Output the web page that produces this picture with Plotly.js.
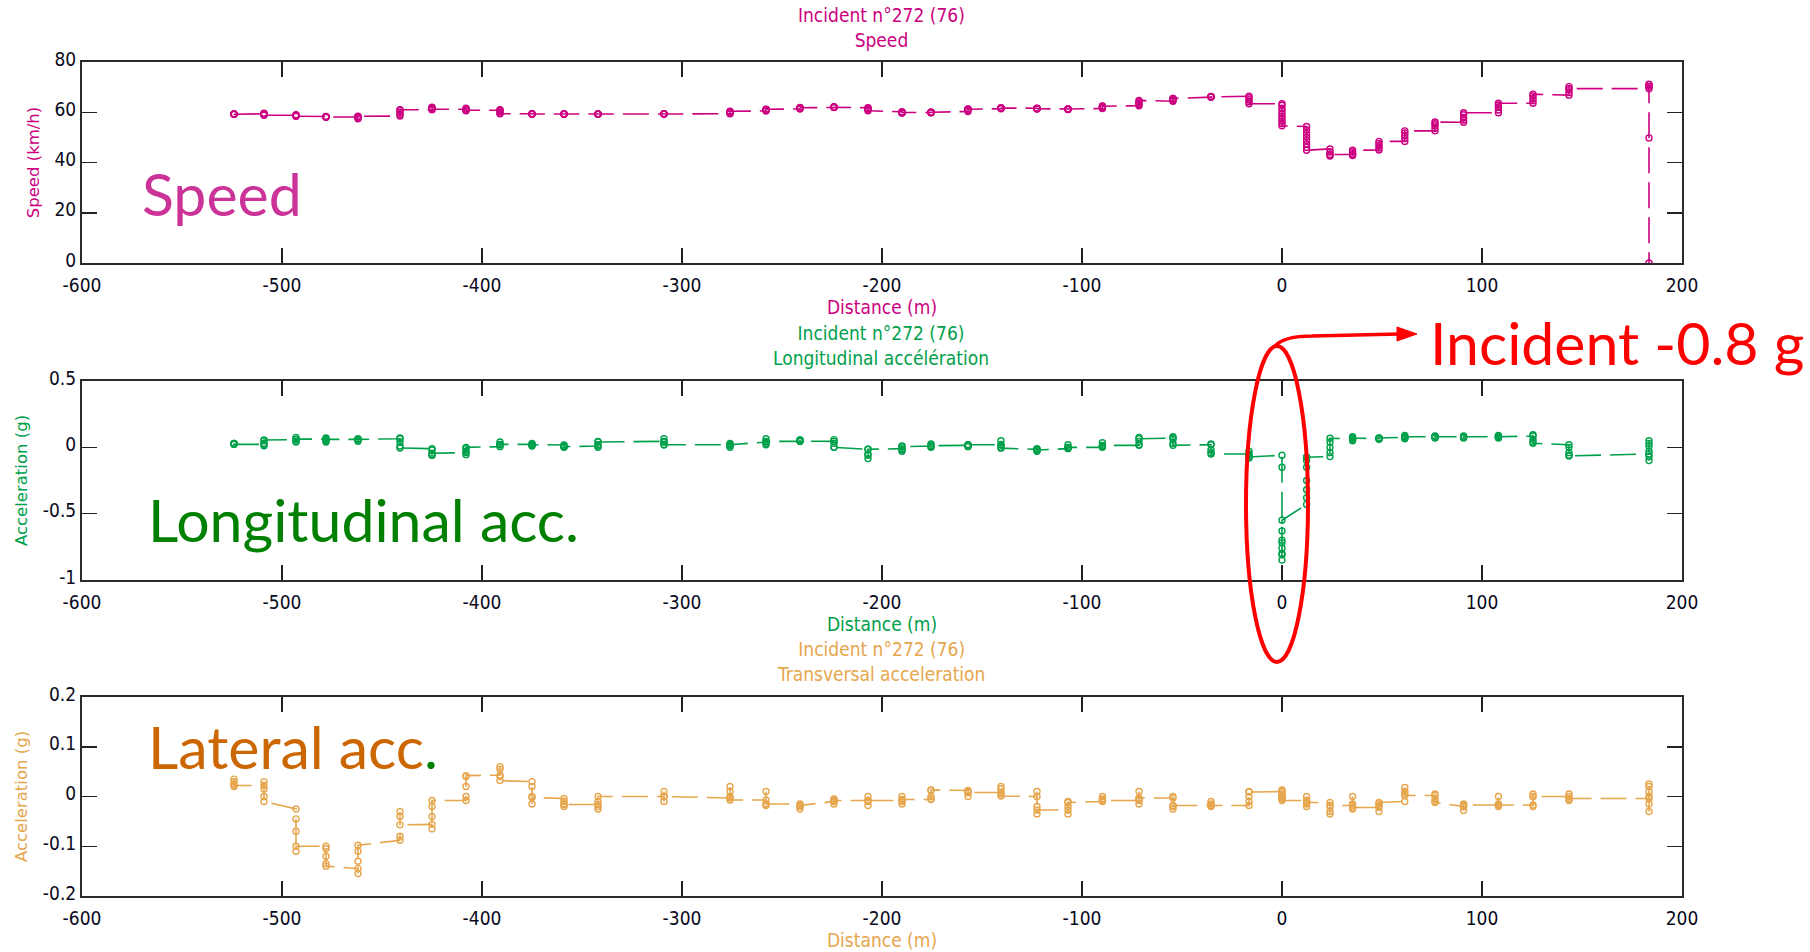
<!DOCTYPE html>
<html>
<head>
<meta charset="utf-8">
<script src="https://cdn.plot.ly/plotly-3.0.1.min.js"></script>
<style>html,body{margin:0;padding:0;background:#fff;}#chart{width:1810px;height:952px;}</style>
</head>
<body>
<div id="chart"></div>
<script>
// ---------- DATA ----------
// distance of each GPS update (m); the sensors sample several times between updates
const distances = [-524,-509,-493,-478,-462,-441,-425,-408,-391,-375,-359,-342,-309,-276,-258,-241,-224,-207,-190,-175.5,-157,-140.5,-122.5,-107,-89.8,-71.5,-54.5,-35.5,-16.5,0,12.3,24,35.3,48.5,61.4,76.5,90.8,108.2,125.5,143.5,183.5];

const speed = [
 [59.3,59.3,59.3,59.2,59.2],[59.4,59.6,59.2,59.0,58.8],[58.8,59.0,58.6,58.5,58.4],[58.3,58.2,58.0,58.1,58.1],
 [58.1,57.4,57.8,58.2,58.4],[58.5,59.2,60.0,60.8,61.0],[61.0,61.8,62.0,61.4,61.2],[61.2,61.6,61.0,60.6,60.8],
 [60.8,61.0,60.2,59.6,59.4],[59.4,59.3,59.2,59.3,59.3],[59.3,59.3,59.2,59.3,59.3],[59.3,59.3,59.3,59.2,59.3],
 [59.3,59.3,59.4,59.3,59.3],[59.4,59.6,59.9,60.2,60.4],[60.5,60.8,61.1,61.0,61.2],[61.3,61.6,61.9,61.7,61.8],
 [61.9,62.2,62.0,62.1,62.0],[61.8,61.6,61.2,60.9,60.6],[60.2,59.8,59.7,59.8,59.9],[59.9,59.8,60.0,59.9,60.0],
 [60.3,60.8,61.2,61.3,61.2],[61.4,61.7,61.8,61.6,61.7],[61.6,61.5,61.3,61.5,61.4],[61.3,61.2,61.1,61.2,61.3],
 [61.5,61.8,62.1,62.5,62.4],[62.6,63.1,63.6,64.2,64.7],[64.4,64.8,65.2,65.5,65.5],[66.0,66.2,66.3,66.2,66.1],
 [66.4,65.8,65.0,64.2,63.4],
 [63.4,62.8,61.6,60.5,59.5,58.4,57.5,56.5,55.5,54.6],
 [54.3,53.0,51.6,50.2,48.8,47.4,46.0,44.9],
 [45.4,44.2,43.0,42.6,43.2],[43.2,42.8,43.3,44.2,44.9],[45.0,45.8,46.7,47.6,48.4],[48.4,49.6,50.8,51.8,52.6],
 [52.6,53.6,54.6,55.4,56.1],[56.0,56.9,57.9,59.0,59.8],[59.8,60.9,62.0,62.9,63.6],[63.6,64.6,65.6,66.5,67.2],
 [66.8,67.8,69.0,70.2,69.4],
 [69.4,70.2,71.2,71.0,70.2,49.8,0]
];

const longAcc = [
 [0.03,0.03,0.028,0.025,0.022],[0.022,0.012,0.03,0.05,0.055],[0.058,0.075,0.045,0.04,0.062],[0.062,0.07,0.04,0.05,0.06],
 [0.06,0.065,0.045,0.055,0.06],[0.065,0.07,0.04,0.01,-0.005],[-0.01,-0.02,-0.06,-0.06,-0.045],[-0.04,-0.055,-0.03,-0.01,0.0],
 [0.005,0.02,0.04,0.02,0.022],[0.022,0.03,0.01,0.015,0.02],[0.018,0.0,0.005,0.01,0.005],[0.01,0.045,0.02,0.0,0.04],
 [0.045,0.065,0.04,0.02,0.02],[0.02,0.03,0.01,0.0,0.02],[0.04,0.065,0.03,0.02,0.045],[0.045,0.058,0.05,0.048,0.046],
 [0.045,0.058,0.03,0.0,0.0],[-0.015,-0.05,-0.085,-0.06,-0.015],[-0.01,0.01,-0.03,-0.02,0.004],[0.01,0.025,0.0,0.005,0.012],
 [0.015,0.02,0.005,0.01,0.02],[0.02,0.05,0.02,0.0,-0.006],[-0.015,-0.01,-0.03,-0.025,-0.02],[-0.01,0.02,0.0,-0.005,0.0],
 [0.0,0.035,0.01,0.005,0.015],[0.015,0.02,0.045,0.075,0.065],[0.07,0.08,0.06,0.03,0.015],[0.02,0.025,-0.02,-0.04,-0.05],
 [-0.05,-0.03,-0.06,-0.08,-0.072],
 [-0.06,-0.15,-0.63,-0.7,-0.76,-0.81,-0.85,-0.8,-0.72,-0.55],
 [-0.43,-0.38,-0.32,-0.25,-0.15,-0.1,-0.075,-0.075],
 [-0.07,-0.04,0.0,0.04,0.068],[0.065,0.08,0.06,0.05,0.07],[0.065,0.07,0.06,0.065,0.07],[0.075,0.09,0.065,0.07,0.08],
 [0.08,0.085,0.07,0.075,0.08],[0.08,0.085,0.07,0.075,0.08],[0.08,0.09,0.07,0.075,0.08],[0.085,0.095,0.06,0.04,0.03],
 [0.02,0.0,-0.04,-0.06,-0.065],
 [-0.05,-0.03,0.01,0.05,0.03,-0.07,-0.1]
];

const latAcc = [
 [0.035,0.03,0.025,0.02,0.022],[0.022,0.03,0.015,0.0,-0.01],[-0.025,-0.045,-0.07,-0.11,-0.1],[-0.1,-0.105,-0.12,-0.135,-0.14],
 [-0.145,-0.155,-0.13,-0.11,-0.098],[-0.088,-0.08,-0.04,-0.03,-0.057],[-0.056,-0.065,-0.04,-0.02,-0.008],[-0.008,0.0,0.02,0.04,0.042],
 [0.043,0.055,0.06,0.04,0.032],[0.03,0.02,0.0,-0.015,-0.002],[-0.004,-0.01,-0.02,-0.015,-0.016],[-0.016,-0.02,-0.025,-0.01,0.0],
 [0.0,0.01,-0.01,0.0,0.0],[-0.003,0.02,0.01,0.0,-0.007],[-0.007,0.01,-0.018,-0.015,-0.015],[-0.015,-0.02,-0.025,-0.02,-0.018],
 [-0.01,-0.015,-0.005,-0.01,-0.008],[-0.008,0.0,-0.018,-0.01,-0.008],[-0.008,-0.015,0.0,-0.01,-0.006],[-0.006,0.012,0.0,-0.005,0.013],
 [0.012,0.01,0.0,0.008,0.008],[0.008,0.02,0.015,0.005,0.001],[0.0,0.01,-0.02,-0.035,-0.027],[-0.027,-0.035,-0.02,-0.01,-0.012],
 [-0.01,0.0,-0.005,-0.008,-0.008],[-0.008,0.01,-0.015,-0.005,-0.003],[-0.003,0.0,-0.025,-0.02,-0.018],[-0.018,-0.01,-0.015,-0.02,-0.018],
 [-0.018,-0.01,0.01,0.0,0.009],
 [0.01,0.013,0.01,0.0,-0.002,0.005,0.0,-0.005,0.002,-0.008],
 [-0.008,-0.012,0.0,-0.01,-0.02,-0.015,-0.01,-0.012],
 [-0.012,-0.02,-0.035,-0.03,-0.018],[-0.018,0.0,-0.025,-0.015,-0.022],[-0.022,-0.03,-0.015,-0.02,-0.012],[-0.01,0.01,0.018,0.005,0.002],
 [0.002,0.005,-0.005,-0.01,-0.012],[-0.02,-0.028,-0.015,-0.02,-0.017],[-0.017,0.0,-0.02,-0.015,-0.017],[-0.017,-0.02,0.005,0.0,0.0],
 [0.0,0.005,-0.008,-0.005,-0.004],
 [-0.004,0.0,0.02,0.025,0.01,-0.015,-0.03]
];

const xTicks = [-600,-500,-400,-300,-200,-100,0,100,200];
const xTickLabels = ['-600','-500','-400','-300','-200','-100','0','100','200'];
const speedTicks = [0,20,40,60,80];
const speedTickLabels = ['0','20','40','60','80'];
const longTicks = [-1,-0.5,0,0.5];
const longTickLabels = ['-1','-0.5','0','0.5'];
const latTicks = [-0.2,-0.1,0,0.1,0.2];
const latTickLabels = ['-0.2','-0.1','0','0.1','0.2'];

// ---------- BUILD ----------
function flatten(stacks){
  const xs=[], ys=[];
  stacks.forEach((s,i)=>{ s.forEach(v=>{ xs.push(distances[i]); ys.push(v); }); });
  return {x:xs, y:ys};
}
const cSpeed='rgb(204,0,128)', cLong='rgb(0,160,75)', cLat='rgb(230,166,77)';
function trace(stacks,color,xa,ya){
  const f=flatten(stacks);
  return {x:f.x,y:f.y,xaxis:xa,yaxis:ya,type:'scatter',mode:'lines+markers',
    line:{color:color,width:1.6,dash:'26px,9px'},
    marker:{symbol:'circle-open',size:6,color:color,line:{width:1.4,color:color}},
    hoverinfo:'x+y',showlegend:false};
}
const data=[trace(speed,cSpeed,'x','y'),trace(longAcc,cLong,'x2','y2'),trace(latAcc,cLat,'x3','y3')];

// pixel -> paper helpers
const L=82, R=1682, T=62, B=896;
const xp = px => (px-L)/(R-L);
const yp = py => (B-py)/(B-T);

const narrow='"Liberation Sans Narrow","Arial Narrow","DejaVu Sans Condensed","Liberation Sans",sans-serif';
const tickFont={family:narrow,size:19,color:'#0a0a20'};
function xAxis(anchor,color){
  return {anchor:anchor,range:[-600,200],tickmode:'array',tickvals:xTicks,ticktext:xTickLabels,
    ticks:'inside',ticklen:15,tickwidth:1.5,tickcolor:'#222',showline:true,mirror:'ticks',linecolor:'#2a2a2a',linewidth:2,
    showgrid:false,zeroline:false,tickfont:tickFont,ticklabelstandoff:4,
    title:{text:'Distance (m)',standoff:1,font:{family:narrow,size:19,color:color}}};
}
function yAxis(anchor,dom,range,tv,tt,title,color){
  return {anchor:anchor,domain:dom,range:range,tickmode:'array',tickvals:tv,ticktext:tt,
    ticks:'inside',ticklen:15,tickwidth:1.5,tickcolor:'#222',showline:true,mirror:'ticks',linecolor:'#2a2a2a',linewidth:2,
    showgrid:false,zeroline:false,tickfont:tickFont,ticklabelshift:-3,
    title:{text:title,standoff:11,font:{family:'"DejaVu Sans",sans-serif',size:16.5,color:color}}};
}

const titleFont=c=>({family:narrow,size:19,color:c});
const bigFont=(c)=>({family:'Lato,"Open Sans",sans-serif',size:59,color:c});

const annotations=[
 {xref:'paper',yref:'paper',x:xp(881),y:yp(27),xanchor:'center',yanchor:'middle',showarrow:false,
  text:'Incident n°272 (76)<br>Speed',font:titleFont(cSpeed)},
 {xref:'paper',yref:'paper',x:xp(881),y:yp(345),xanchor:'center',yanchor:'middle',showarrow:false,
  text:'Incident n°272 (76)<br>Longitudinal accélération',font:titleFont(cLong)},
 {xref:'paper',yref:'paper',x:xp(881),y:yp(661),xanchor:'center',yanchor:'middle',showarrow:false,
  text:'Incident n°272 (76)<br>Transversal acceleration',font:titleFont(cLat)},
 {xref:'paper',yref:'paper',x:xp(140),y:yp(193),xanchor:'left',yanchor:'middle',showarrow:false,
  text:'Speed',font:bigFont('rgb(204,51,153)')},
 {xref:'paper',yref:'paper',x:xp(146),y:yp(519),xanchor:'left',yanchor:'middle',showarrow:false,
  text:'Longitudinal acc.',font:bigFont('rgb(0,128,0)')},
 {xref:'paper',yref:'paper',x:xp(146),y:yp(746),xanchor:'left',yanchor:'middle',showarrow:false,
  text:'Lateral acc<span style="color:rgb(0,128,0)">.</span>',font:bigFont('rgb(204,102,0)')},
 {xref:'paper',yref:'paper',x:xp(1428),y:yp(342),xanchor:'left',yanchor:'middle',showarrow:false,
  text:'Incident -0.8 g',font:bigFont('rgb(255,0,0)')}
];

function P(x,y){ return xp(x)+','+yp(y); }
const shapes=[
 {type:'circle',xref:'paper',yref:'paper',x0:xp(1246),x1:xp(1308),y0:yp(662),y1:yp(346),
  line:{color:'rgb(255,0,0)',width:4}},
 {type:'path',xref:'paper',yref:'paper',path:'M '+P(1275,346)+' Q '+P(1284,336)+' '+P(1312,336)+' L '+P(1400,334),
  line:{color:'rgb(255,0,0)',width:3.5}},
 {type:'path',xref:'paper',yref:'paper',path:'M '+P(1397,327)+' L '+P(1417,334)+' L '+P(1397,341)+' Z',
  fillcolor:'rgb(255,0,0)',line:{color:'rgb(255,0,0)',width:1}}
];

const layout={
  width:1810,height:952,margin:{l:L,r:1810-R,t:T,b:952-B},
  paper_bgcolor:'#fff',plot_bgcolor:'#fff',showlegend:false,
  xaxis:xAxis('y',cSpeed), xaxis2:xAxis('y2',cLong), xaxis3:xAxis('y3',cLat),
  yaxis:yAxis('x',[yp(263),1],[0,80],speedTicks,speedTickLabels,'Speed (km/h)',cSpeed),
  yaxis2:yAxis('x2',[yp(580),yp(381)],[-1,0.5],longTicks,longTickLabels,'Acceleration (g)',cLong),
  yaxis3:yAxis('x3',[0,yp(697)],[-0.2,0.2],latTicks,latTickLabels,'Acceleration (g)',cLat),
  annotations:annotations, shapes:shapes
};
Plotly.newPlot('chart',data,layout,{displayModeBar:false,staticPlot:true});
</script>
</body>
</html>
